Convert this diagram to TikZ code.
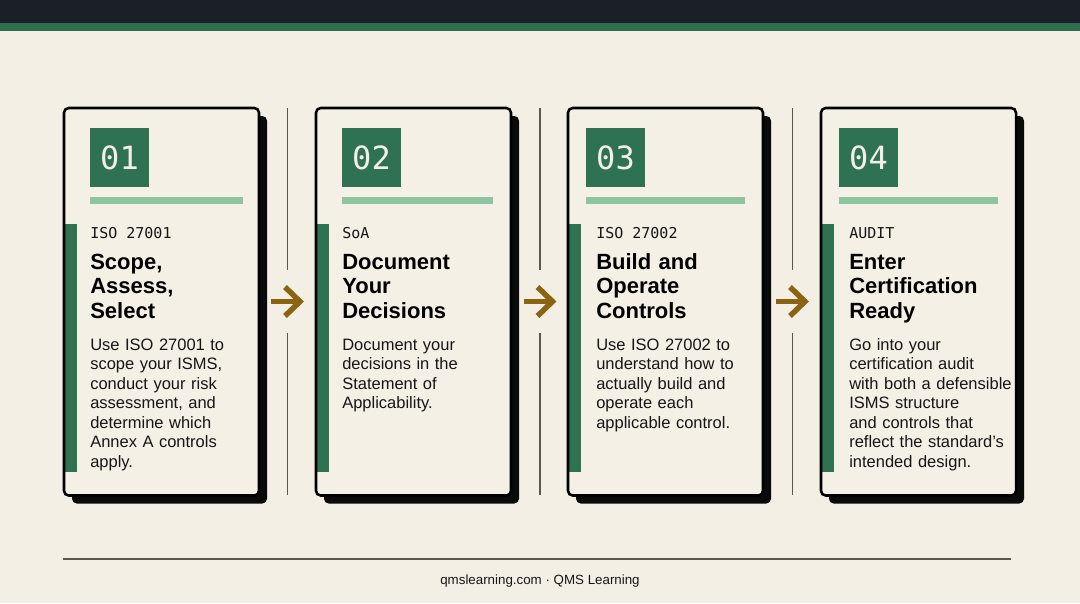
\documentclass[tikz,border=0pt]{standalone}
\usepackage{fontspec}
\setmainfont{Liberation Sans}
\newfontfamily\monof{DejaVu Sans Mono}
\definecolor{bgc}{HTML}{F4EFE4}
\definecolor{cardc}{HTML}{F5F0E6}
\definecolor{topdark}{HTML}{1B1F27}
\definecolor{topgreen}{HTML}{2E6E4E}
\definecolor{boxgreen}{HTML}{2F7251}
\definecolor{lightgreen}{HTML}{8DC5A1}
\definecolor{arrowc}{HTML}{8A6411}
\definecolor{linec}{HTML}{5E564B}
\definecolor{textc}{HTML}{161616}
\definecolor{shadowc}{HTML}{0A0A0A}
\begin{document}
\begin{tikzpicture}[x=0.75pt,y=-0.75pt,
  bodyt/.style={anchor=base west, inner sep=0pt, text width=170pt, align=left, text=textc, font=\fontsize{12.375}{14.625}\selectfont},
  titlet/.style={anchor=base west, inner sep=0pt, text width=170pt, align=left, text=black, font=\bfseries\fontsize{16.5}{18.6}\selectfont},
  labelt/.style={anchor=base west, inner sep=0pt, text=textc, font=\monof\fontsize{11.25}{13}\selectfont},
  numbox/.style={fill=boxgreen, minimum width=44.25pt, minimum height=44.25pt, inner sep=0pt, outer sep=0pt, text=bgc, font=\monof\fontsize{24}{28}\selectfont},
  cardn/.style={fill=cardc, rounded corners=3.5pt, minimum width=146.25pt, minimum height=290.625pt, inner sep=0pt, outer sep=0pt},
  cardborder/.style={draw=black, line width=1.9pt, rounded corners=3.5pt},
  sepline/.style={draw=linec, line width=1.1pt},
  arrowline/.style={draw=arrowc, line width=4.1pt, miter limit=10},
  foott/.style={inner sep=0pt, text=textc, font=\fontsize{10}{12}\selectfont}
]
\useasboundingbox (0,0) rectangle (1080,603);
\fill[bgc] (0,0) rectangle (1080,603);
\fill[topdark] (0,0) rectangle (1080,23);
\fill[topgreen] (0,23) rectangle (1080,30.5);

% cards
\foreach \k/\cx/\bx/\bw in {1/64/90/153,2/316/342/151,3/568/586/159,4/821/839/159} {
  \fill[shadowc, rounded corners=3.5pt] (\cx+8,116) rectangle (\cx+203,503.5);
  \node[cardn, anchor=north west] (card\k) at (\cx,108) {};
  \fill[boxgreen] (\cx+1,224) rectangle (\cx+13,472);
  \draw[cardborder] (card\k.north west) rectangle (card\k.south east);
  \node[numbox] (num\k) at (\bx+29.5,157.5) {0\k};
  \fill[lightgreen] (\bx,196.5) rectangle (\bx+\bw,204.3);
}

% card 1
\node[labelt] (lab1) at (90,238) {ISO 27001};
\node[titlet] (tit1) at (90,269) {Scope,\\Assess,\\Select};
\node[bodyt] (bod1) at (90,350) {Use ISO 27001 to\\scope your ISMS,\\conduct your risk\\assessment, and\\determine which\\Annex A controls\\apply.};
% card 2
\node[labelt] (lab2) at (342,238) {SoA};
\node[titlet] (tit2) at (342,269) {Document\\Your\\Decisions};
\node[bodyt] (bod2) at (342,350) {Document your\\decisions in the\\Statement of\\Applicability.};
% card 3
\node[labelt] (lab3) at (596,238) {ISO 27002};
\node[titlet] (tit3) at (596,269) {Build and\\Operate\\Controls};
\node[bodyt] (bod3) at (596,350) {Use ISO 27002 to\\understand how to\\actually build and\\operate each\\applicable control.};
% card 4
\node[labelt] (lab4) at (849,238) {AUDIT};
\node[titlet] (tit4) at (849,269) {Enter\\Certification\\Ready};
\node[bodyt] (bod4) at (849,350) {Go into your\\certification audit\\with both a defensible\\ISMS structure\\and controls that\\reflect the standard’s\\intended design.};

% separators and arrows
\foreach \s/\sx in {1/287.5,2/540,3/792.5} {
  \coordinate (s\s a) at (\sx,108);
  \coordinate (s\s b) at (\sx,270);
  \coordinate (s\s c) at (\sx,333);
  \coordinate (s\s d) at (\sx,495);
  \draw[sepline] (s\s a) -- (s\s b);
  \draw[sepline] (s\s c) -- (s\s d);
  \coordinate (a\s s) at (\sx-16.5,301.5);
  \coordinate (a\s t) at (\sx+12,301.5);
  \coordinate (a\s u) at (\sx-2.5,287);
  \coordinate (a\s v) at (\sx+12.5,301.5);
  \coordinate (a\s w) at (\sx-2.5,316);
  \draw[arrowline] (a\s s) -- (a\s t);
  \draw[arrowline] (a\s u) -- (a\s v) -- (a\s w);
}

% footer
\coordinate (fl) at (63,559);
\coordinate (fr) at (1011,559);
\draw[draw=linec, line width=1.25pt] (fl) -- (fr);
\node[foott] (foot) at (540,581) {qmslearning.com · QMS Learning};
\end{tikzpicture}
\end{document}
